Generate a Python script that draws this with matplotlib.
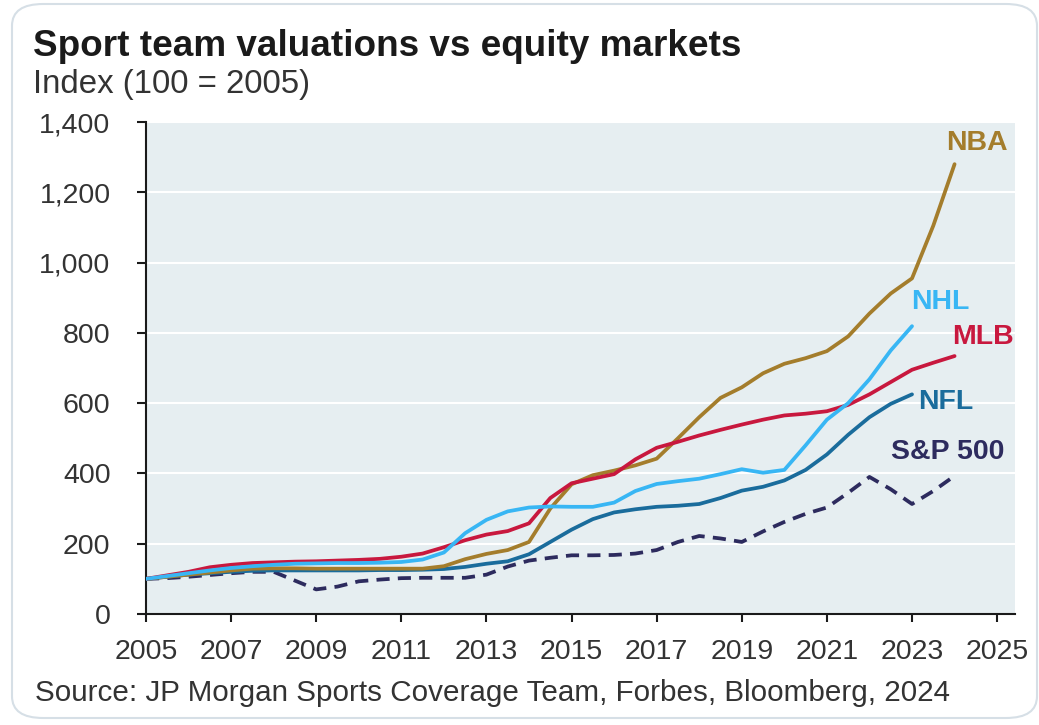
import matplotlib
matplotlib.use("Agg")
import matplotlib.pyplot as plt
from matplotlib.patches import FancyBboxPatch

plt.rcParams['font.family'] = ['Liberation Sans', 'DejaVu Sans']

years = [2005 + 0.5 * i for i in range(39)]  # 2005 .. 2024 step 0.5

nba = [100, 106, 112, 118, 124, 129, 130, 130, 129, 129, 129, 129, 129, 129,
       136, 156, 171, 182, 205, 300, 369, 395, 408, 423, 442, 500, 560, 615,
       645, 685, 712, 728, 748, 790, 855, 912, 955, 1105, 1280]
mlb = [100, 110, 120, 133, 140, 145, 147, 149, 150, 152, 154, 157, 163, 172,
       190, 210, 226, 236, 258, 330, 372, 385, 398, 440, 473, 490, 508, 524,
       539, 553, 565, 570, 577, 595, 625, 660, 695, 715, 734]
nhl = [100, 108, 116, 124, 131, 136, 140, 143, 144, 145, 145, 146, 148, 155,
       175, 230, 268, 292, 303, 306, 305, 305, 317, 350, 370, 378, 385, 398,
       412, 402, 410, 480, 553, 600, 668, 750, 819]
nfl = [100, 106, 112, 116, 120, 123, 124, 124, 124, 124, 124, 125, 125, 126,
       128, 134, 143, 150, 170, 205, 240, 270, 289, 298, 305, 308, 313, 330,
       351, 362, 380, 410, 454, 510, 560, 598, 625]
sp500 = [100, 102, 106, 111, 116, 120, 120, 95, 70, 78, 93, 98, 102, 103,
         103, 103, 112, 135, 152, 160, 167, 167, 168, 172, 182, 205, 222, 215,
         205, 235, 262, 285, 303, 345, 390, 355, 313, 350, 393]

series_names = ["NBA", "NHL", "MLB", "NFL", "S&P 500"]
label_pos = {"NBA": (2024.53, 1341), "NHL": (2023.66, 888), "MLB": (2024.67, 788),
             "NFL": (2023.8, 603), "S&P 500": (2023.83, 460)}
colors = {"NBA": "#A47D2C", "MLB": "#C8183E", "NHL": "#38B6F4",
          "NFL": "#1A6C9C", "S&P 500": "#2D2B5E"}

xticks = list(range(2005, 2026, 2))
yticks = list(range(0, 1401, 200))

W, H = 1039, 725
fig = plt.figure(figsize=(W / 100, H / 100), dpi=100)
fig.patch.set_facecolor("white")

frame = FancyBboxPatch((12 / W, 7 / H), (1025 / W), (714 / H),
                       boxstyle="round,pad=0,rounding_size=0.03",
                       transform=fig.transFigure, facecolor="none",
                       edgecolor="#D6DFE6", linewidth=1.5, zorder=-1)
fig.patches.append(frame)

ax = fig.add_axes([146 / W, 1 - 614 / H, (1015 - 146) / W, (614 - 122) / H])
ax.set_facecolor("#E6EEF1")
ax.set_xlim(2005, 2025.42)
ax.set_ylim(0, 1400)

for y in yticks[1:]:
    ax.axhline(y, color="white", lw=1.5, zorder=1)

lw = 2.7
ax.plot(years[:len(nfl)], nfl, color=colors["NFL"], lw=lw, zorder=3,
        solid_capstyle="round", solid_joinstyle="round")
ax.plot(years[:len(nhl)], nhl, color=colors["NHL"], lw=lw, zorder=4,
        solid_capstyle="round", solid_joinstyle="round")
ax.plot(years, nba, color=colors["NBA"], lw=lw, zorder=3,
        solid_capstyle="round", solid_joinstyle="round")
ax.plot(years, mlb, color=colors["MLB"], lw=lw, zorder=3,
        solid_capstyle="round", solid_joinstyle="round")
ax.plot(years, sp500, color=colors["S&P 500"], lw=lw, zorder=2,
        dashes=(3.5, 2.2))

for name in series_names:
    x, y = label_pos[name]
    ax.text(x, y, name, color=colors[name], fontsize=20.5, fontweight="bold",
            ha="center", va="center", clip_on=False)

for s in ["top", "right"]:
    ax.spines[s].set_visible(False)
for s in ["left", "bottom"]:
    ax.spines[s].set_color("#1a1a1a")
    ax.spines[s].set_linewidth(1.5)

ax.set_xticks(xticks)
ax.set_yticks(yticks)
ax.set_yticklabels([f"{v:,}" for v in yticks])
ax.tick_params(axis="x", direction="out", length=5.8, width=1.5, pad=12,
               labelsize=20.5, colors="#1a1a1a", labelcolor="#333333")
ax.tick_params(axis="y", direction="out", length=6.5, width=1.5, pad=19,
               labelsize=20.5, colors="#1a1a1a", labelcolor="#333333")

fig.text(33 / W, 1 - 56 / H, "Sport team valuations vs equity markets",
         fontsize=26.6, fontweight="bold", color="#1a1a1a", ha="left", va="baseline")
fig.text(33 / W, 1 - 93 / H, "Index (100 = 2005)", fontsize=23.8,
         color="#333333", ha="left", va="baseline")
fig.text(35 / W, 1 - 701 / H,
         "Source: JP Morgan Sports Coverage Team, Forbes, Bloomberg, 2024",
         fontsize=21.3, color="#333333", ha="left", va="baseline")

fig.savefig("out.png", dpi=100)
